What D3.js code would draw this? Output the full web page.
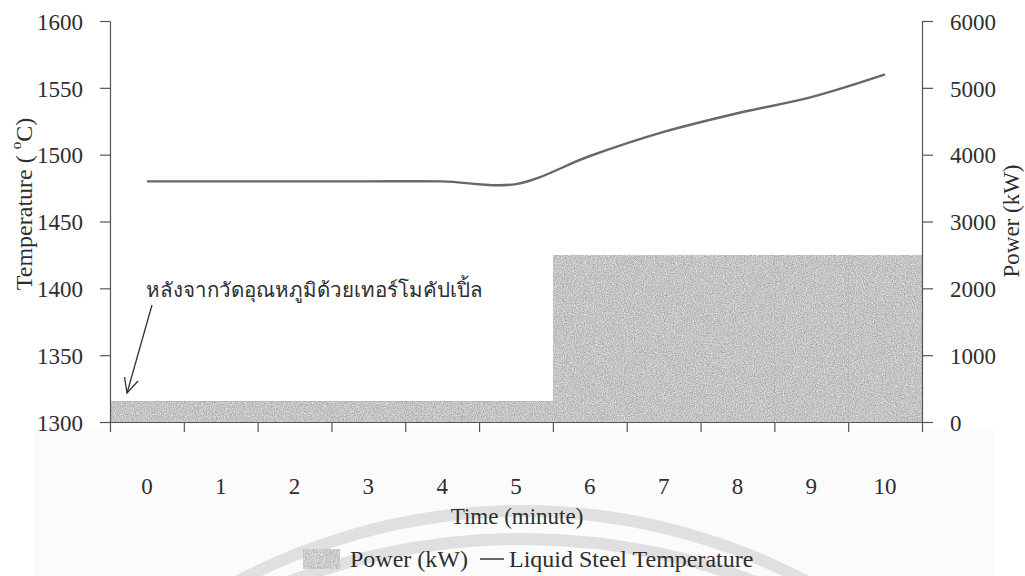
<!DOCTYPE html>
<html>
<head>
<meta charset="utf-8">
<script src="https://cdn.jsdelivr.net/npm/d3@7"></script>
<style>
  html, body { margin: 0; padding: 0; background: #fff; }
  svg { display: block; }
  text { font-family: "Liberation Serif", "Times New Roman", serif; fill: #2e2e2e; }
</style>
</head>
<body>
<svg id="chart" width="1025" height="576"></svg>
<script>
// Time axis categories (minutes)
const minutes = ["0", "1", "2", "3", "4", "5", "6", "7", "8", "9", "10"];
// Liquid steel temperature (°C) at each minute
const steelTemp = [1480, 1480, 1480, 1480, 1480, 1478, 1499, 1517, 1531, 1543, 1560];
// Furnace power (kW) at each minute
const powerKW = [310, 310, 310, 310, 310, 310, 2500, 2500, 2500, 2500, 2500];
// Axis tick values
const tempTicks = [1300, 1350, 1400, 1450, 1500, 1550, 1600];
const powerTicks = [0, 1000, 2000, 3000, 4000, 5000, 6000];

const svg = d3.select("#chart");
const plotLeft = 110, plotRight = 922, plotTop = 21, plotBottom = 422;
const fontSize = 23;

// soft grainy fill for the power area
const defs = svg.append("defs");
const f = defs.append("filter").attr("id", "grain")
  .attr("x", 0).attr("y", 0).attr("width", 1).attr("height", 1)
  .attr("color-interpolation-filters", "sRGB");
f.append("feTurbulence").attr("type", "fractalNoise").attr("baseFrequency", 0.9)
  .attr("numOctaves", 2).attr("seed", 4).attr("result", "n");
f.append("feColorMatrix").attr("in", "n").attr("type", "matrix")
  .attr("values", "1 0 0 0 0  1 0 0 0 0  1 0 0 0 0  0 0 0 0 1").attr("result", "g");
f.append("feComposite").attr("in", "SourceGraphic").attr("in2", "g").attr("operator", "arithmetic")
  .attr("k1", 0).attr("k2", 1).attr("k3", 0.42).attr("k4", -0.21).attr("result", "m");
f.append("feComposite").attr("in", "m").attr("in2", "SourceAlpha").attr("operator", "in");

// faint paper tint below the plot and the seal arcs behind the lower text
svg.append("rect").attr("x", 34).attr("y", 430).attr("width", 960).attr("height", 146).attr("fill", "#fbfbfb");
const seal = svg.append("g").attr("fill", "#e0e0e0");
seal.append("path").attr("transform", "translate(522,1121)")
  .attr("d", d3.arc()({ innerRadius: 604, outerRadius: 616, startAngle: -0.55, endAngle: 0.55 }));
seal.append("path").attr("transform", "translate(522,1197)")
  .attr("d", d3.arc()({ innerRadius: 652, outerRadius: 664, startAngle: -0.42, endAngle: 0.42 }));

// scales
const x = d3.scaleBand().domain(minutes).range([plotLeft, plotRight]).padding(0);
const xEdge = d3.scaleLinear().domain([0, minutes.length]).range([plotLeft, plotRight]);
const yT = d3.scaleLinear().domain([1300, 1600]).range([plotBottom, plotTop]);
const yP = d3.scaleLinear().domain([0, 6000]).range([plotBottom, plotTop]);

// power columns (no gap between columns)
svg.append("g").attr("filter", "url(#grain)")
  .selectAll("rect").data(minutes).join("rect")
  .attr("x", d => x(d))
  .attr("width", x.bandwidth() + 0.5)
  .attr("y", (d, i) => yP(powerKW[i]))
  .attr("height", (d, i) => plotBottom - yP(powerKW[i]))
  .attr("fill", "#c4c4c4");

// temperature line
const line = d3.line()
  .x((d, i) => x(minutes[i]) + x.bandwidth() / 2)
  .y(d => yT(d))
  .curve(d3.curveCatmullRom.alpha(0.5));
svg.append("path").datum(steelTemp)
  .attr("d", line).attr("fill", "none")
  .attr("stroke", "#686868").attr("stroke-width", 2.4);

function styleAxis(g) {
  g.selectAll("path, line").attr("stroke", "#555").attr("stroke-width", 1.2);
  g.selectAll("text").attr("font-size", fontSize).attr("fill", "#2e2e2e")
    .attr("font-family", "Liberation Serif, serif");
}

// left temperature axis
svg.append("g").attr("transform", `translate(${plotLeft},0)`)
  .call(d3.axisLeft(yT).tickValues(tempTicks).tickFormat(d3.format("d"))
    .tickSize(10).tickSizeOuter(0).tickPadding(17))
  .call(styleAxis)
  .call(g => g.selectAll("text").attr("dy", "0.36em"));

// right power axis
svg.append("g").attr("transform", `translate(${plotRight},0)`)
  .call(d3.axisRight(yP).tickValues(powerTicks).tickFormat(d3.format("d"))
    .tickSize(11).tickSizeOuter(0).tickPadding(17))
  .call(styleAxis)
  .call(g => g.selectAll("text").attr("dy", "0.36em"));

// bottom axis: ticks on the column boundaries
svg.append("g").attr("transform", `translate(0,${plotBottom})`)
  .call(d3.axisBottom(xEdge).tickValues(d3.range(minutes.length + 1)).tickFormat("")
    .tickSize(10).tickSizeOuter(0))
  .call(styleAxis);

// minute labels centred in each column
svg.append("g").attr("transform", `translate(0,${plotBottom})`)
  .call(d3.axisBottom(x).tickSize(0).tickPadding(56))
  .call(styleAxis)
  .call(g => g.select(".domain").remove());

// axis titles
svg.append("text").attr("x", 517).attr("y", 524)
  .attr("text-anchor", "middle").attr("font-size", fontSize).text("Time (minute)");

const lt = svg.append("text").attr("transform", "translate(32,204) rotate(-90)")
  .attr("text-anchor", "middle").attr("font-size", 24);
lt.append("tspan").text("Temperature ( ");
lt.append("tspan").attr("font-size", 15).attr("dy", -11).text("o");
lt.append("tspan").attr("dy", 11).text("C)");

svg.append("text").attr("transform", "translate(1019,221) rotate(-90)")
  .attr("text-anchor", "middle").attr("font-size", fontSize).text("Power (kW)");

// annotation with arrow
svg.append("text").attr("x", 146).attr("y", 297).attr("font-size", 20.5)
  .attr("font-family", "'Noto Serif Thai', 'Liberation Serif', 'Noto Sans Thai', serif")
  .text("หลังจากวัดอุณหภูมิด้วยเทอร์โมคัปเปิ้ล");
const arrow = svg.append("g").attr("stroke", "#333").attr("stroke-width", 1.3).attr("fill", "none");
arrow.append("line").attr("x1", 152).attr("y1", 305).attr("x2", 127).attr("y2", 393);
arrow.append("polyline").attr("points", "124.5,377 127,393 138,381");

// legend, laid out left to right
const legendSize = 24;
let lx = 303;
svg.append("rect").attr("x", lx).attr("y", 549).attr("width", 37).attr("height", 20)
  .attr("fill", "#cccccc").attr("filter", "url(#grain)");
lx += 47;
const t1 = svg.append("text").attr("x", lx).attr("y", 567).attr("font-size", legendSize).text("Power (kW)");
lx += t1.node().getComputedTextLength() + 12;
svg.append("line").attr("x1", lx).attr("x2", lx + 24).attr("y1", 559).attr("y2", 559)
  .attr("stroke", "#686868").attr("stroke-width", 2);
lx += 29;
svg.append("text").attr("x", lx).attr("y", 567).attr("font-size", legendSize).text("Liquid Steel Temperature");
</script>
</body>
</html>
